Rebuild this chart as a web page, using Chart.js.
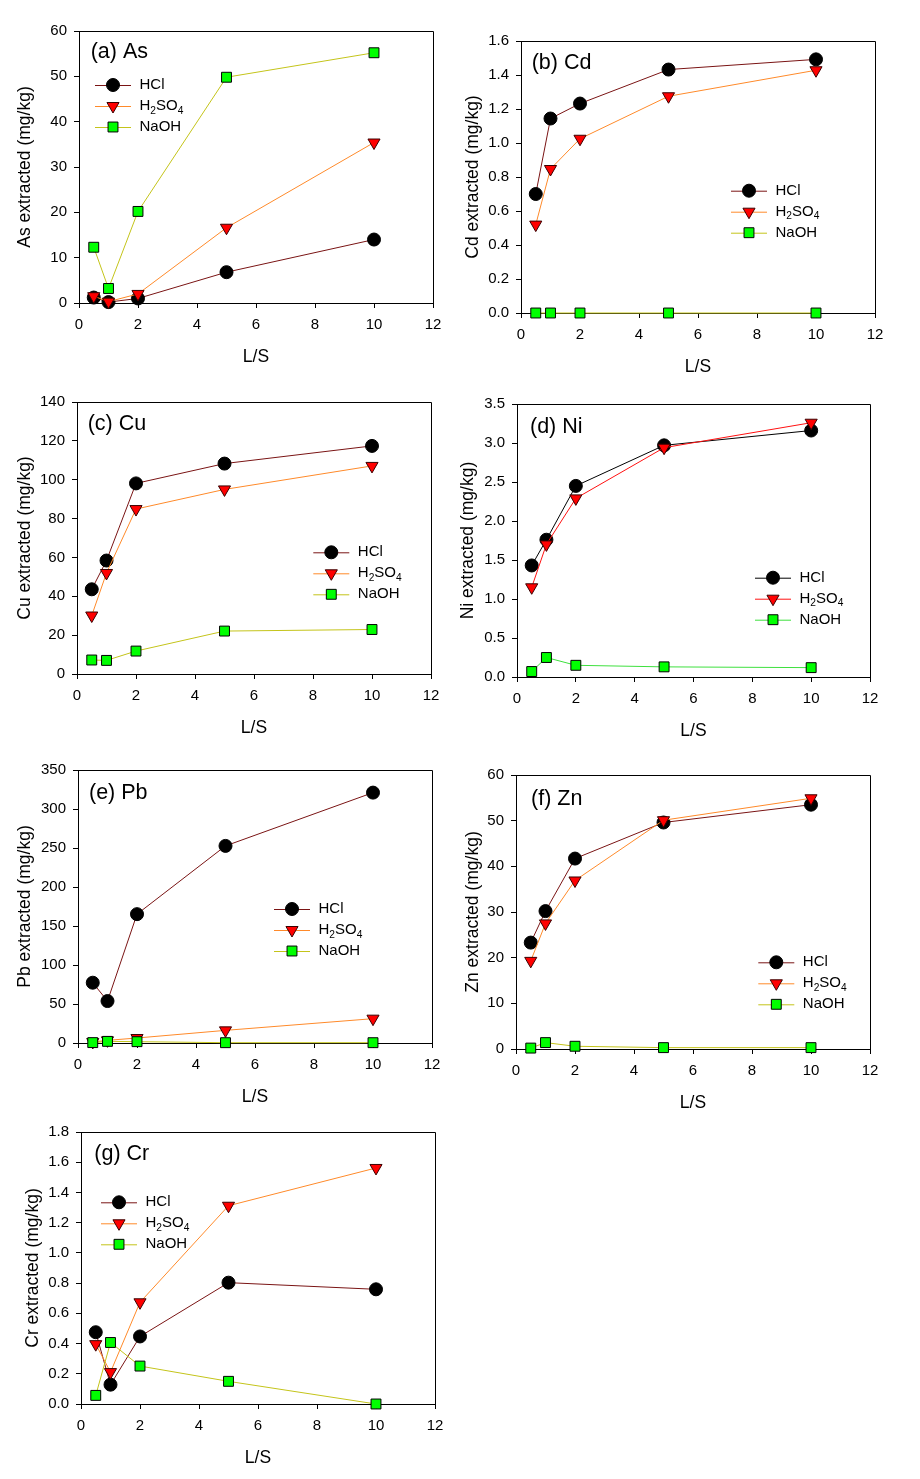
<!DOCTYPE html>
<html>
<head>
<meta charset="utf-8">
<script src="https://cdn.jsdelivr.net/npm/chart.js@4.4.0/dist/chart.umd.min.js"></script>
<style>
  html, body { margin: 0; padding: 0; background: #fff; }
  #page { position: relative; width: 920px; height: 1479px; overflow: hidden; background: #fff; }
  .panel { position: absolute; }
</style>
</head>
<body>
<div id="page"></div>
<script>
// L/S ratios (x values shared by every panel)
const lsRatio = [0.5, 1, 2, 5, 10];

const asHCl   = [1.2, 0.2, 1.0, 6.8, 14.0];
const asH2SO4 = [1.5, 0.3, 2.0, 16.6, 35.4];
const asNaOH  = [12.3, 3.2, 20.2, 49.8, 55.2];

const cdHCl   = [0.70, 1.144, 1.232, 1.432, 1.492];
const cdH2SO4 = [0.52, 0.847, 1.025, 1.275, 1.428];
const cdNaOH  = [0, 0, 0, 0, 0];

const cuHCl   = [43.6, 58.4, 98.1, 108.3, 117.4];
const cuH2SO4 = [30.1, 52.0, 84.9, 95.0, 107.1];
const cuNaOH  = [7.2, 7.0, 11.8, 22.1, 22.9];

const niHCl   = [1.43, 1.76, 2.45, 2.97, 3.16];
const niH2SO4 = [1.15, 1.70, 2.29, 2.94, 3.26];
const niNaOH  = [0.07, 0.25, 0.15, 0.13, 0.12];

const pbHCl   = [77.3, 53.8, 165.2, 252.7, 321.0];
const pbH2SO4 = [1.3, 3.4, 6.4, 16.2, 31.2];
const pbNaOH  = [0.5, 2.1, 1.7, 0.4, 0.4];

const znHCl   = [23.3, 30.2, 41.7, 49.6, 53.5];
const znH2SO4 = [19.3, 27.5, 36.9, 50.1, 54.9];
const znNaOH  = [0.2, 1.4, 0.6, 0.3, 0.3];

const crHCl   = [0.475, 0.128, 0.447, 0.803, 0.759];
const crH2SO4 = [0.396, 0.211, 0.673, 1.312, 1.562];
const crNaOH  = [0.057, 0.407, 0.251, 0.150, 0.0];

const metals      = ['As', 'Cd', 'Cu', 'Ni', 'Pb', 'Zn', 'Cr'];
const panelLabels = ['(a) As', '(b) Cd', '(c) Cu', '(d) Ni', '(e) Pb', '(f) Zn', '(g) Cr'];
const extractants = ['HCl', 'H2SO4', 'NaOH'];
const yMax      = [60, 1.6, 140, 3.5, 350, 60, 1.8];
const yStep     = [10, 0.2, 20, 0.5, 50, 10, 0.2];
const yDecimals = [0, 1, 0, 1, 0, 0, 1];
const xMax = 12;
const xStep = 2;
const xTitle = 'L/S';

const seriesByPanel = [
  [asHCl, asH2SO4, asNaOH],
  [cdHCl, cdH2SO4, cdNaOH],
  [cuHCl, cuH2SO4, cuNaOH],
  [niHCl, niH2SO4, niNaOH],
  [pbHCl, pbH2SO4, pbNaOH],
  [znHCl, znH2SO4, znNaOH],
  [crHCl, crH2SO4, crNaOH],
];

// layout: plot box on the page, y title offset, label and legend offsets (px from plot top-left)
const boxes = [
  { l: 79,  t: 31,   r: 433, b: 303,  yt: 54, lab: [11.7, 21.3], leg: [16, 54] },
  { l: 521, t: 41,   r: 875, b: 313,  yt: 48, lab: [10.7, 22.3], leg: [210, 149.7] },
  { l: 77,  t: 402,  r: 431, b: 674,  yt: 52, lab: [10.7, 22.3], leg: [236.3, 150.3] },
  { l: 517, t: 404,  r: 870, b: 677,  yt: 49, lab: [13, 22.7],   leg: [238, 173.7] },
  { l: 78,  t: 770,  r: 432, b: 1043, yt: 53, lab: [11, 23.3],   leg: [196, 139] },
  { l: 516, t: 775,  r: 870, b: 1049, yt: 43, lab: [15, 24],     leg: [242.3, 187.3] },
  { l: 81,  t: 1132, r: 435, b: 1404, yt: 48, lab: [13.3, 22.3], leg: [20, 70.3] },
];

const FONT = '"Liberation Sans", Arial, Helvetica, sans-serif';
const lineColorsDefault = ['#7a1414', '#ff8a2a', '#c4c41a'];
const lineColorsNi = ['#000000', '#ff1010', '#3ee03e'];
const markers = [
  { pointStyle: 'circle',   radius: 6.5, rotation: 0,   fill: '#000000', edge: '#000000' },
  { pointStyle: 'triangle', radius: 7,   rotation: 180, fill: '#ff0000', edge: '#3a0000' },
  { pointStyle: 'rect',     radius: 7,   rotation: 0,   fill: '#00ff00', edge: '#000000' },
];

const Y_AXIS_W = 70;
const X_AXIS_H = 70;
const PAD_TOP = 20;
const PAD_RIGHT = 25;

function drawChem(ctx, text, x, y, size) {
  const parts = text.match(/[A-Za-z]+|\d+/g);
  let cx = x;
  parts.forEach(p => {
    if (/^\d+$/.test(p)) {
      ctx.font = (size * 0.68) + 'px ' + FONT;
      ctx.fillText(p, cx, y + size * 0.32);
    } else {
      ctx.font = size + 'px ' + FONT;
      ctx.fillText(p, cx, y);
    }
    cx += ctx.measureText(p).width;
  });
}

const decoPlugin = {
  id: 'deco',
  beforeDatasetsDraw(chart) {
    const { ctx, chartArea: a } = chart;
    ctx.save();
    ctx.strokeStyle = '#000';
    ctx.lineWidth = 1;
    ctx.beginPath();
    ctx.moveTo(Math.round(a.left) + 0.5, Math.round(a.top) + 0.5);
    ctx.lineTo(Math.round(a.right) + 0.5, Math.round(a.top) + 0.5);
    ctx.lineTo(Math.round(a.right) + 0.5, Math.round(a.bottom) + 0.5);
    ctx.stroke();
    ctx.restore();
  },
  afterDraw(chart, args, opts) {
    const { ctx, chartArea: a } = chart;
    ctx.save();
    ctx.fillStyle = '#000';
    ctx.textBaseline = 'middle';
    ctx.textAlign = 'left';
    ctx.font = '21.5px ' + FONT;
    ctx.fillText(opts.label, a.left + opts.lab[0], a.top + opts.lab[1]);

    const x1 = a.left + opts.leg[0];
    const x2 = x1 + 36;
    opts.names.forEach((name, k) => {
      const y = a.top + opts.leg[1] + k * 21;
      ctx.strokeStyle = opts.colors[k];
      ctx.lineWidth = 1;
      ctx.beginPath();
      ctx.moveTo(x1, y + 0.5);
      ctx.lineTo(x2, y + 0.5);
      ctx.stroke();
      const m = markers[k];
      ctx.fillStyle = m.fill;
      ctx.strokeStyle = m.edge;
      ctx.lineWidth = 1;
      Chart.helpers.drawPoint(ctx, { pointStyle: m.pointStyle, radius: m.radius, rotation: m.rotation, borderWidth: 1 }, (x1 + x2) / 2, y);
      ctx.fillStyle = '#000';
      drawChem(ctx, name, x2 + 8.5, y, 15);
    });
    ctx.restore();
  }
};

const page = document.getElementById('page');

seriesByPanel.forEach((series, i) => {
  const g = boxes[i];
  const w = (g.r - g.l) + Y_AXIS_W + PAD_RIGHT;
  const h = (g.b - g.t) + PAD_TOP + X_AXIS_H;
  const wrap = document.createElement('div');
  wrap.className = 'panel';
  wrap.style.left = (g.l - Y_AXIS_W) + 'px';
  wrap.style.top = (g.t - PAD_TOP) + 'px';
  wrap.style.width = w + 'px';
  wrap.style.height = h + 'px';
  const canvas = document.createElement('canvas');
  canvas.width = w;
  canvas.height = h;
  canvas.style.width = w + 'px';
  canvas.style.height = h + 'px';
  wrap.appendChild(canvas);
  page.appendChild(wrap);

  const colors = metals[i] === 'Ni' ? lineColorsNi : lineColorsDefault;

  const datasets = series.map((vals, k) => ({
    label: extractants[k],
    data: lsRatio.map((x, j) => ({ x: x, y: vals[j] })),
    borderColor: colors[k],
    borderWidth: 1,
    backgroundColor: markers[k].fill,
    pointStyle: markers[k].pointStyle,
    pointRotation: markers[k].rotation,
    pointRadius: markers[k].radius,
    pointBackgroundColor: markers[k].fill,
    pointBorderColor: markers[k].edge,
    pointBorderWidth: 1,
    tension: 0,
    clip: false,
    order: 3 - k,
  }));

  const tickFont = { family: FONT, size: 15 };
  const titleFont = { family: FONT, size: 17.5 };

  new Chart(canvas, {
    type: 'line',
    data: { datasets },
    plugins: [decoPlugin],
    options: {
      responsive: false,
      animation: false,
      devicePixelRatio: 1,
      layout: { padding: { top: PAD_TOP, right: PAD_RIGHT, left: 0, bottom: 0 } },
      plugins: {
        legend: { display: false },
        tooltip: { enabled: false },
        deco: {
          label: panelLabels[i],
          lab: g.lab,
          leg: g.leg,
          names: extractants,
          colors: colors,
        },
      },
      scales: {
        x: {
          type: 'linear',
          min: 0,
          max: xMax,
          afterFit(scale) { scale.height = X_AXIS_H; },
          ticks: { stepSize: xStep, color: '#000', font: tickFont, padding: 8, maxRotation: 0,
                   callback: v => String(v) },
          grid: { drawOnChartArea: false, drawTicks: true, tickLength: 5, color: '#000' },
          border: { display: true, color: '#000', width: 1 },
          title: { display: true, text: xTitle, color: '#000', font: titleFont,
                   padding: { top: 0, bottom: X_AXIS_H - 54 - 10.5 } },
        },
        y: {
          type: 'linear',
          min: 0,
          max: yMax[i],
          afterFit(scale) { scale.width = Y_AXIS_W; },
          ticks: { stepSize: yStep[i], color: '#000', font: tickFont, padding: 7,
                   callback: v => Number(v).toFixed(yDecimals[i]) },
          grid: { drawOnChartArea: false, drawTicks: true, tickLength: 5, color: '#000' },
          border: { display: true, color: '#000', width: 1 },
          title: { display: true, text: metals[i] + ' extracted (mg/kg)', color: '#000', font: titleFont,
                   padding: { top: Y_AXIS_W - g.yt - 10.5, bottom: 0 } },
        },
      },
    },
  });
});
</script>
</body>
</html>
